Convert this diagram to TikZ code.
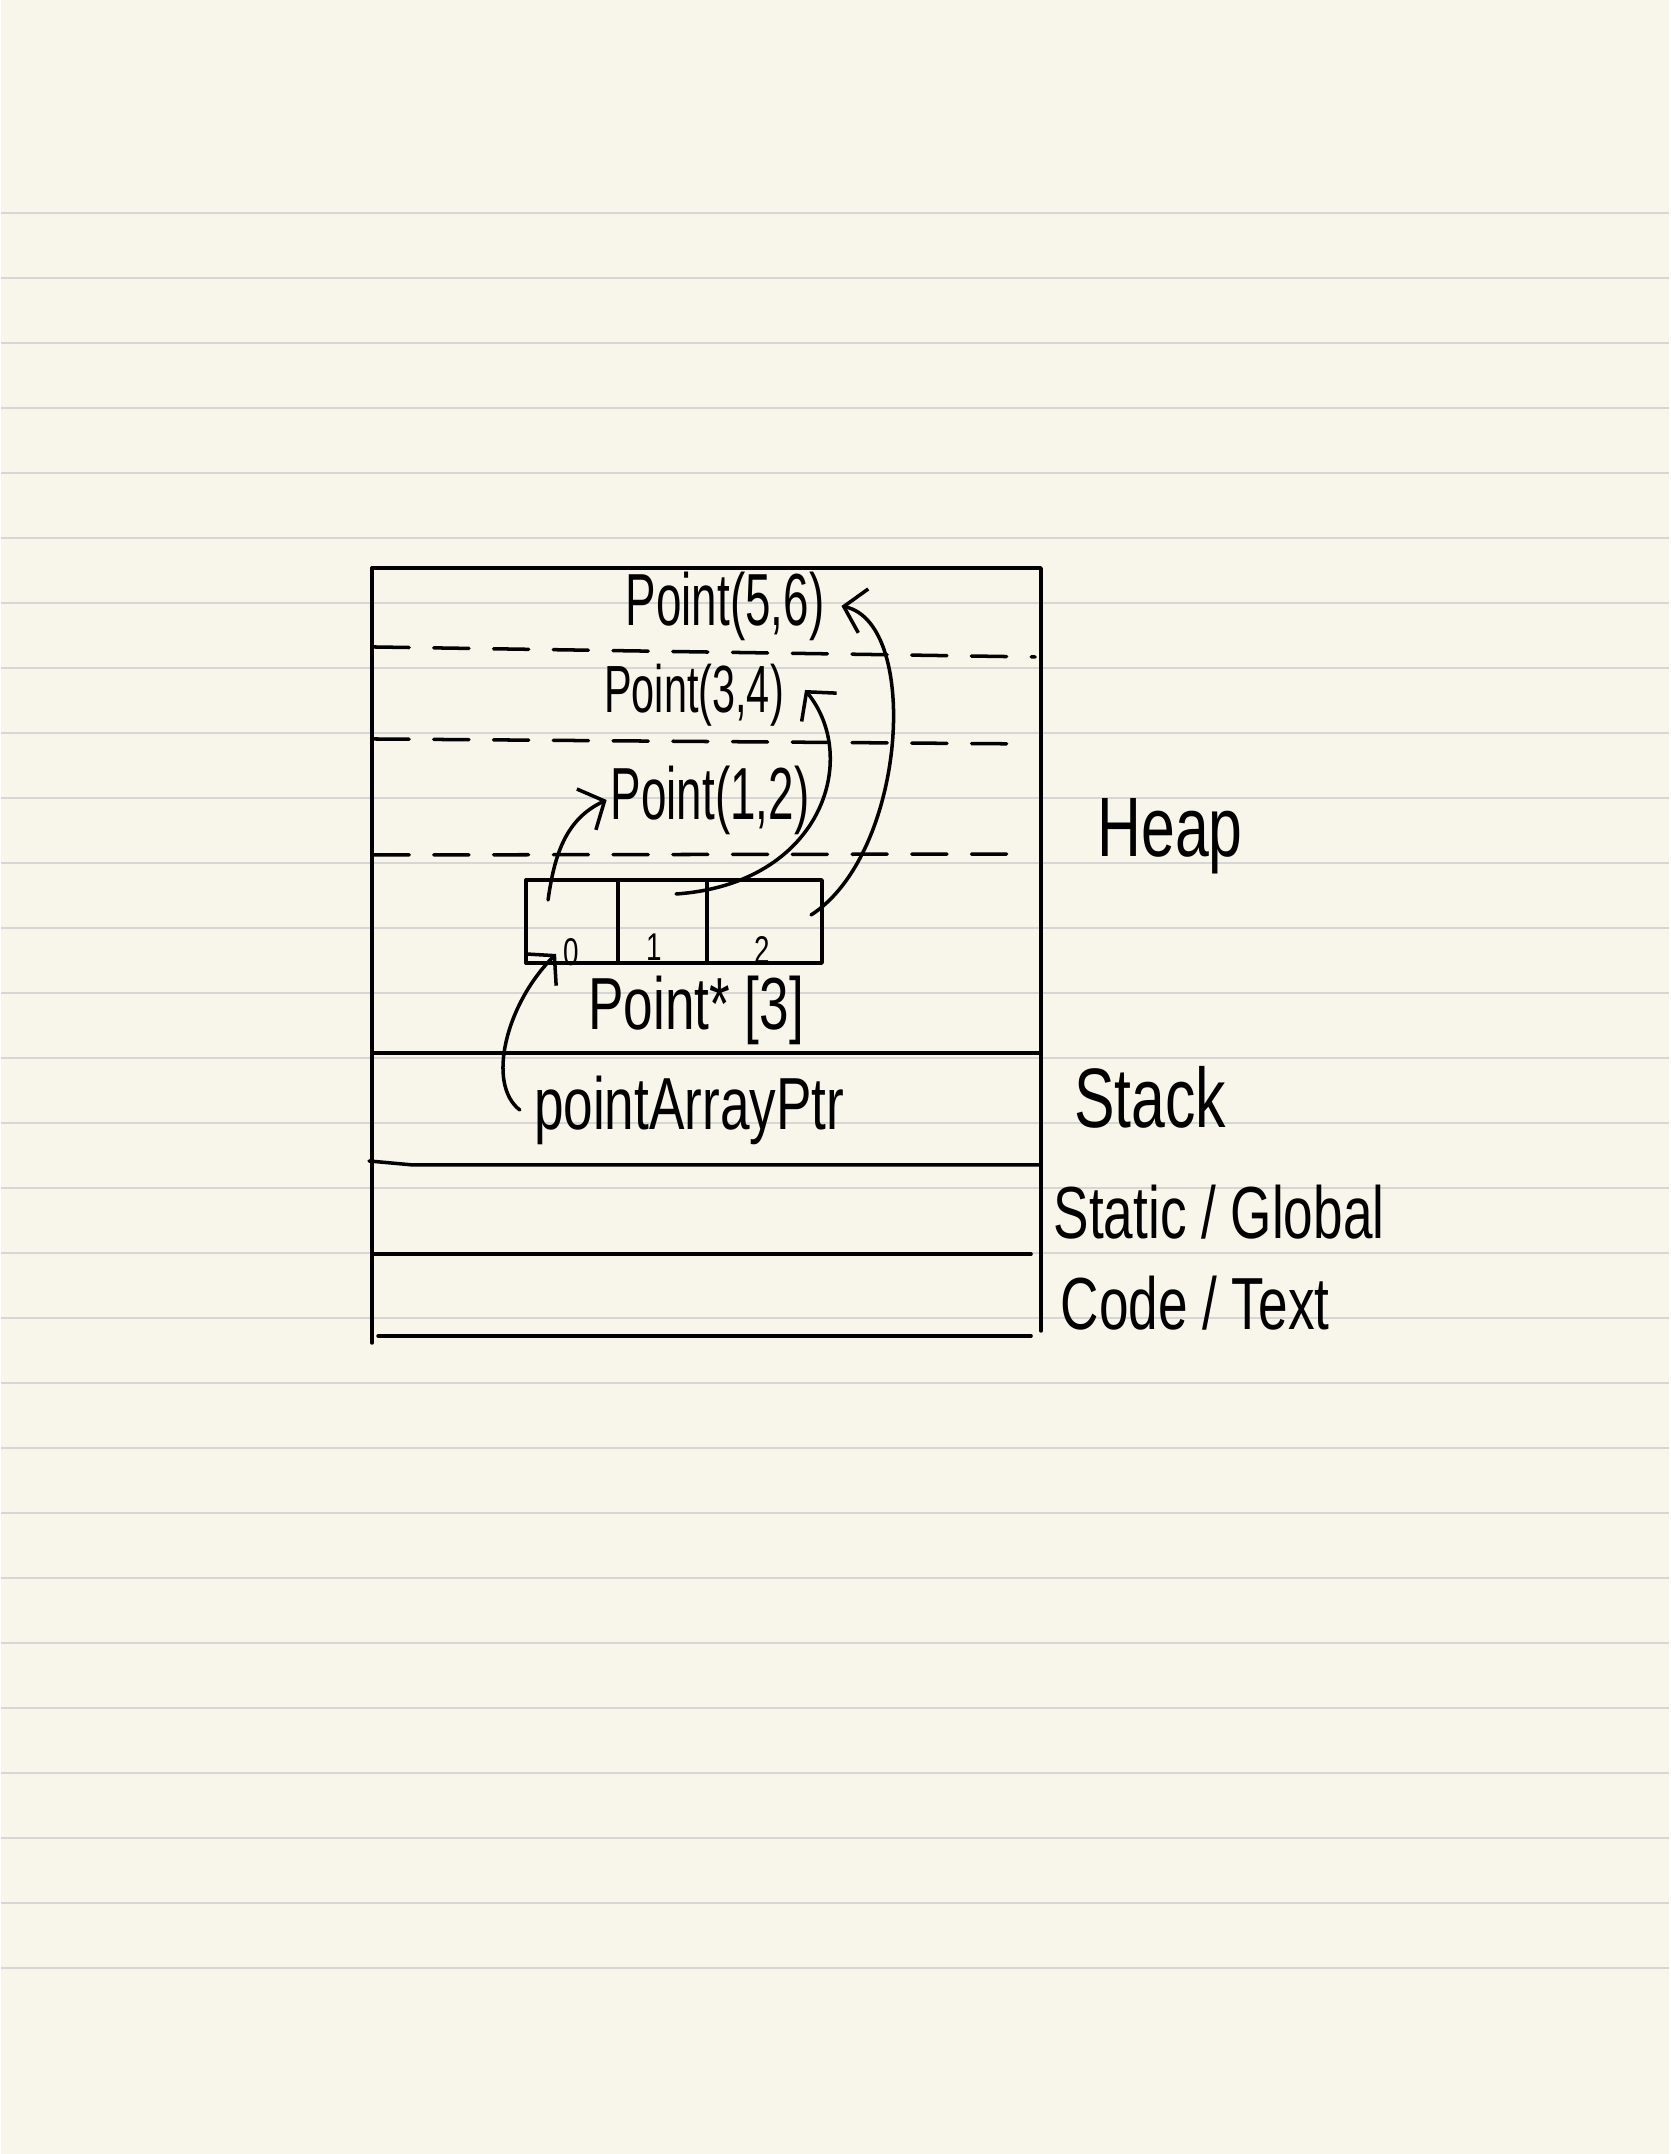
\documentclass[tikz,border=0pt]{standalone}
\usepackage{fontspec}
\setmainfont{Liberation Sans}
\newfontfamily\handfont[FakeStretch=0.72]{Liberation Sans}
\newfontfamily\objfont[FakeStretch=0.62]{Liberation Sans}
\usetikzlibrary{arrows.meta,positioning}
\definecolor{paper}{RGB}{248,246,234}
\definecolor{ruling}{RGB}{214,214,212}
\tikzset{
  ink/.style={line width=1pt, line cap=round, line join=round},
  dashline/.style={ink, dash pattern=on 10pt off 7pt},
  cell/.style={draw, ink, minimum height=0.83cm, outer sep=0pt, inner sep=0pt},
  hand/.style={inner sep=1pt, font=\handfont\fontsize{21}{25}\selectfont},
  obj/.style={inner sep=1pt, font=\objfont\fontsize{21}{25}\selectfont},
  region/.style={inner sep=1pt, font=\handfont\fontsize{24}{28}\selectfont},
  idx/.style={inner sep=1pt, font=\handfont\fontsize{11}{13}\selectfont},
  ptr/.style={ink, -{Straight Barb[length=2mm,width=4.5mm]}},
}

\begin{document}
\begin{tikzpicture}
        \fill[paper] (0,0) rectangle (16.68,21.54);
        \foreach \k in {0,...,27}
            \draw[ruling, line width=0.6pt] (0,{19.41-0.65*\k}) -- (16.68,{19.41-0.65*\k});
        % memory layout
        \draw[ink] (3.71,8.11) -- (3.71,15.86) -- (10.40,15.86) -- (10.40,8.23);
        \draw[dashline] (3.73,15.07) -- (10.34,14.97);
        \draw[dashline] (3.73,14.15) -- (10.30,14.10);
        \draw[dashline] (3.73,12.99) -- (10.25,13.00);
        \draw[ink] (3.71,11.01) -- (10.40,11.01);
        \draw[ink] (3.68,9.93) -- (4.12,9.89) -- (10.40,9.89);
        \draw[ink] (3.72,9.00) -- (10.30,9.00);
        \draw[ink] (3.77,8.18) -- (10.30,8.18);
        % array of pointers
        \node[cell, minimum width=0.92cm] (c0) at (5.71,12.325) {};
        \node[cell, minimum width=0.89cm, right=0pt of c0] (c1) {};
        \node[cell, minimum width=1.15cm, right=0pt of c1] (c2) {};
        \node[idx] (i0) at (5.70,12.02) {0};
        \node[idx] (i1) at (6.53,12.07) {1};
        \node[idx] (i2) at (7.61,12.04) {2};
        \node[obj] (p56) at (7.24,15.48) {Point(5,6)};
        \node[obj, font=\objfont\fontsize{19}{23}\selectfont] (p34) at (6.93,14.59) {Point(3,4)};
        \node[obj] (p12) at (7.09,13.54) {Point(1,2)};
        \node[hand] (arr) at (6.95,11.44) {Point* [3]};
        \node[hand] (ptrvar) at (6.88,10.44) {pointArrayPtr};
        \node[region] (heap) at (11.69,13.18) {Heap};
        \node[region] (stack) at (11.49,10.57) {Stack};
        \node[hand] (static) at (12.18,9.42) {Static / Global};
        \node[hand] (code) at (11.94,8.51) {Code / Text};
        % pointers
        \draw[ptr] ([xshift=0.22cm,yshift=-0.2cm]c0.north west) to[out=82,in=205] (p12.west);
        \draw[ptr] ([xshift=0.58cm,yshift=-0.14cm]c1.north west) .. controls (8.2,12.7) and (8.6,13.95) .. ([xshift=0.17cm,yshift=0.05cm]p34.east);
        \draw[ptr] ([xshift=-0.11cm,yshift=-0.35cm]c2.north east) .. controls (9.05,13.0) and (9.2,15.3) .. ([xshift=0.13cm]p56.east);
        \draw[ptr] ([xshift=-0.1cm]ptrvar.west) .. controls (4.85,10.7) and (5.05,11.5) .. ([xshift=0.3cm,yshift=0.09cm]c0.south west);
    \end{tikzpicture}
\end{document}
